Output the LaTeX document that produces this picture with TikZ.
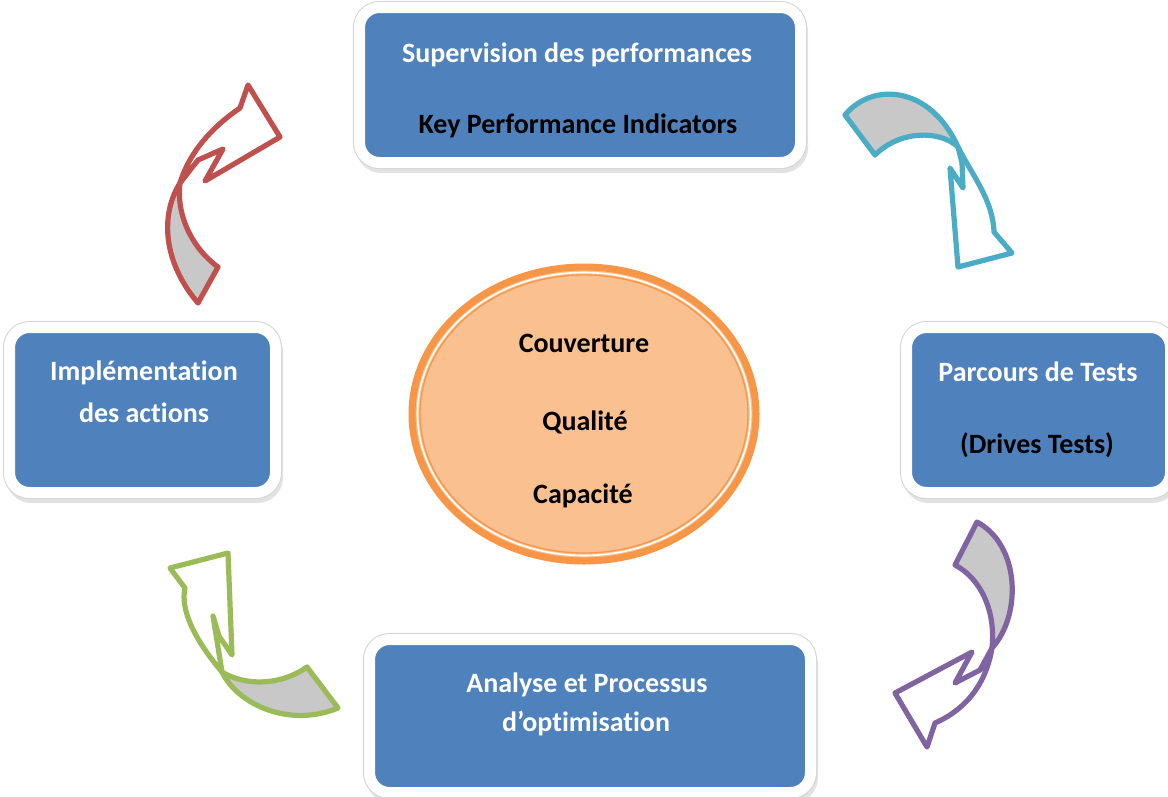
\documentclass[tikz,border=0pt]{standalone}
\usepackage{fontspec}
\setmainfont{Carlito}[Ligatures=NoCommon]
\usetikzlibrary{shapes.geometric,shadows}
\definecolor{boxblue}{HTML}{4F81BD}
\definecolor{framegray}{HTML}{D4D4D4}
\definecolor{ovalfill}{HTML}{FAC090}
\definecolor{ovaldraw}{HTML}{F79646}
\definecolor{arrgray}{HTML}{C8C8C8}
\definecolor{arrblue}{HTML}{4BACC6}
\definecolor{arrred}{HTML}{C0504D}
\definecolor{arrgreen}{HTML}{9BBB59}
\definecolor{arrpurple}{HTML}{8064A2}
\begin{document}
\begin{tikzpicture}[x=1pt,y=-1pt,
  boxnode/.style={rectangle, rounded corners=20pt, fill=boxblue, draw=white, line width=11pt, inner sep=0pt,
    drop shadow={shadow xshift=2pt, shadow yshift=-5pt, fill=black!22, draw=black!22, line width=11pt},
    preaction={draw=framegray, line width=13pt}},
  lbl/.style={anchor=base, inner sep=0pt, font=\fontsize{28}{34}\selectfont\bfseries, text=white},
  lbldark/.style={lbl, text=black},
  arrowline/.style={line width=5.2pt, line join=round},
]
\useasboundingbox (0,0) rectangle (1168,796);
\fill[white] (0,0) rectangle (1168,796);

% boxes
\node[boxnode, minimum width=441pt, minimum height=155pt] (sup) at (580,85) {};
\node[boxnode, minimum width=266pt, minimum height=165pt] (impl) at (142.5,410) {};
\node[boxnode, minimum width=264pt, minimum height=165pt] (parc) at (1038.5,410) {};
\node[boxnode, minimum width=441pt, minimum height=153pt] (ana) at (590,716) {};

% box texts
\node[lbl] (sup1) at (577,62) {Supervision des performances};
\node[lbldark] (sup2) at (578,133) {Key Performance Indicators};
\node[lbl] (impl1) at (144,380) {Implémentation};
\node[lbl] (impl2) at (144,422) {des actions};
\node[lbl] (parc1) at (1038,381) {Parcours de Tests};
\node[lbldark] (parc2) at (1037,453) {(Drives Tests)};
\node[lbl] (ana1) at (587,692) {Analyse et Processus};
\node[lbl] (ana2) at (586,731) {d’optimisation};

% central ellipse
\node[ellipse, fill=ovalfill, draw=ovaldraw, line width=7pt, minimum width=344pt, minimum height=294pt, inner sep=0pt] (core) at (584,414) {};
\draw[white, line width=1.6pt] (core.center) ellipse [x radius=166.5, y radius=141.5];
\draw[ovaldraw, line width=1.3pt] (core.center) ellipse [x radius=164, y radius=139];
\node[lbldark] (c1) at (584,352) {Couverture};
\node[lbldark] (c2) at (585,430) {Qualité};
\node[lbldark] (c3) at (583,503) {Capacité};

% blue arrow (top right)
\filldraw[arrowline, draw=arrblue, fill=arrgray] (845,115) .. controls (872,82) and (930,85) .. (958,147) .. controls (940,130) and (900,130) .. (875,155) -- cycle;
\filldraw[arrowline, draw=arrblue, fill=white] (958,147) -- (962,163) -- (963,188) -- (950,168) -- (958,267) -- (1012,253) -- (994,232) .. controls (993,200) and (972,175) .. (958,147) -- cycle;

% purple arrow (bottom right)
\filldraw[arrowline, draw=arrpurple, fill=arrgray] (977,522) .. controls (1020,545) and (1022,615) .. (992,648) .. controls (996,610) and (980,578) .. (955,565) -- cycle;
\filldraw[arrowline, draw=arrpurple, fill=white] (992,648) -- (980,670) -- (955,683) -- (972,652) -- (895,693) -- (927,747) -- (935,723) .. controls (960,712) and (985,690) .. (992,648) -- cycle;

% green arrow (bottom left)
\filldraw[arrowline, draw=arrgreen, fill=arrgray] (307,667) .. controls (280,686) and (245,686) .. (222,672) .. controls (238,705) and (290,728) .. (338,708) -- cycle;
\filldraw[arrowline, draw=arrgreen, fill=white] (222,672) .. controls (195,640) and (180,610) .. (185,588) -- (170,568) -- (228,553) -- (232,655) -- (219,636) -- (213,616) -- cycle;

% red arrow (top left)
\filldraw[arrowline, draw=arrred, fill=arrgray] (198,303) .. controls (163,262) and (160,215) .. (180,183) .. controls (176,215) and (192,248) .. (218,267) -- cycle;
\filldraw[arrowline, draw=arrred, fill=white] (180,183) .. controls (190,150) and (215,125) .. (240,108) -- (248,85) -- (280,137) -- (205,181) -- (223,149) -- (198,160) -- cycle;
\end{tikzpicture}
\end{document}
